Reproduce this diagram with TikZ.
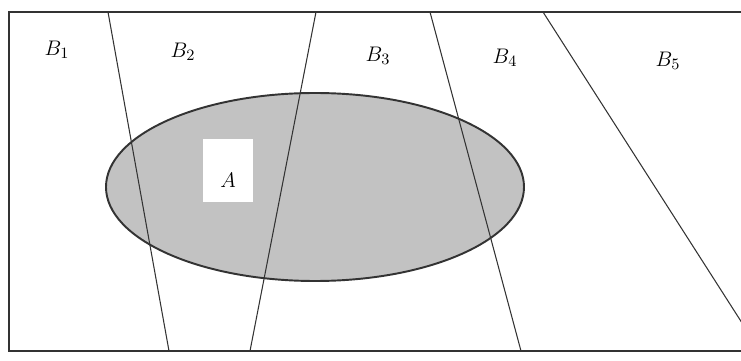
\documentclass[tikz,border=0pt]{standalone}
\usepackage{tikz}
\usetikzlibrary{positioning}
\tikzset{
    lbl/.style={font=\fontsize{13}{15}\selectfont, inner sep=1pt},
    divider/.style={draw=black!80, line width=0.6pt},
    setA/.style={draw=black!80, line width=1.1pt, fill=black!24}
}

\begin{document}
\begin{tikzpicture}[x=0.02cm, y=-0.02cm]
        \useasboundingbox (0,0) rectangle (741,361);
        \clip (0,0) rectangle (741,361);
        % outer frame (cut off on the right)
        \draw[divider] (9,12) rectangle (760,351);
        % the event A
        \draw[setA] (315,187) ellipse [x radius=209, y radius=94];
        \fill[white] (203,139) rectangle (253,202);
        \node[lbl] (A) at (228,180) {$A$};
        % partition lines
        \coordinate (t1) at (108,12);  \coordinate (b1) at (169,351);
        \coordinate (t2) at (316,12);  \coordinate (b2) at (250,351);
        \coordinate (t3) at (430,12);  \coordinate (b3) at (521,351);
        \coordinate (t4) at (543,12);  \coordinate (b4) at (760,351);
        \foreach \i in {1,2,3,4}
            \draw[divider] (t\i) -- (b\i);
        % labels of the partition
        \foreach \i/\x/\y in {1/57/50,2/183/52,3/378/56,4/505/58,5/668/61}
            \node[lbl] (B\i) at (\x,\y) {$B_{\i}$};
    \end{tikzpicture}
\end{document}
